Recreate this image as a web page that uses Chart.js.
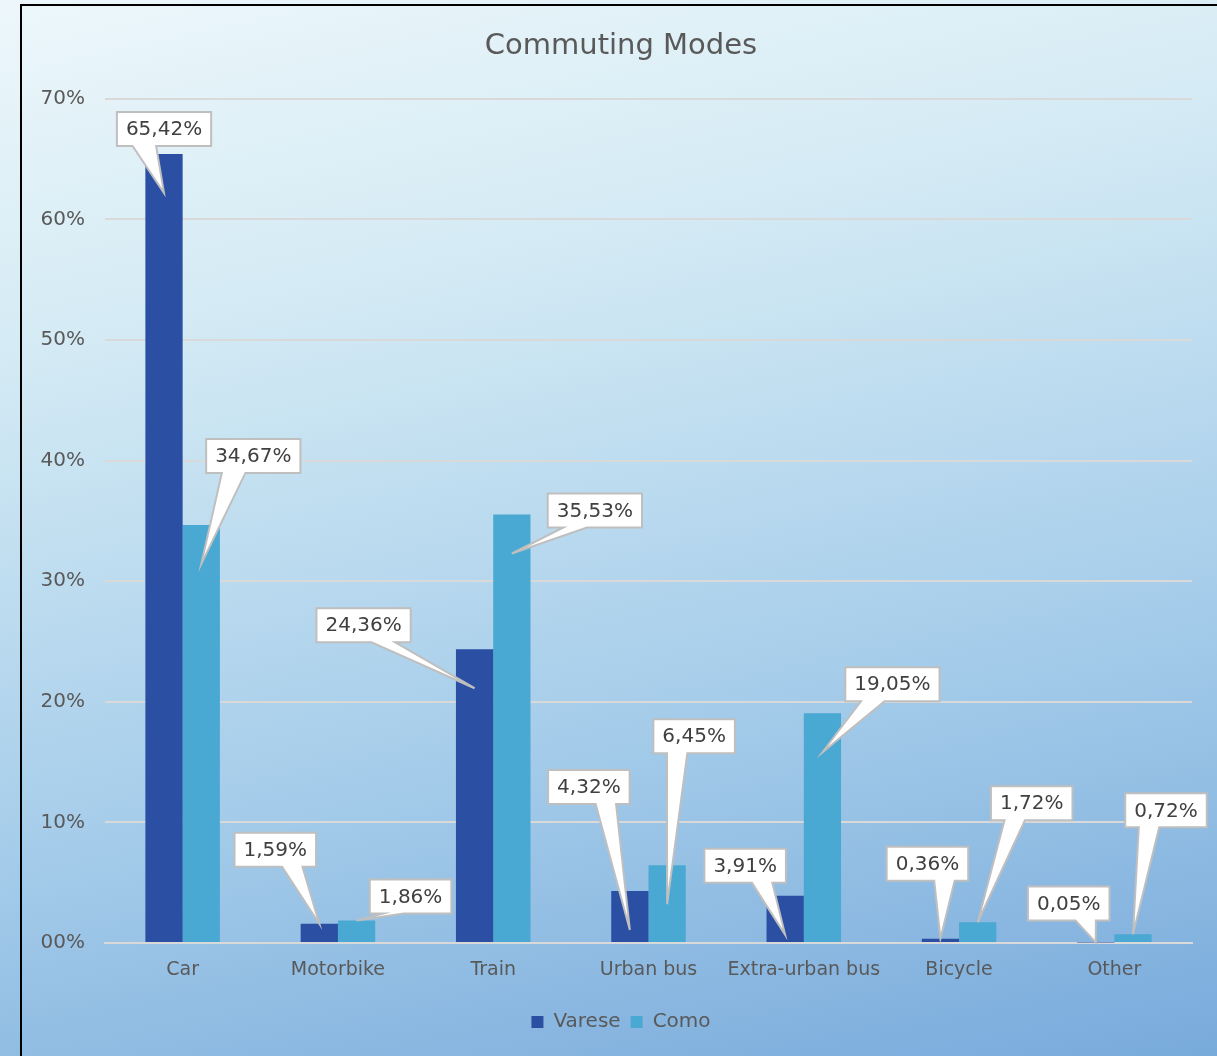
<!DOCTYPE html>
<html>
<head>
<meta charset="utf-8">
<script src="https://cdn.jsdelivr.net/npm/chart.js@4.4.1/dist/chart.umd.min.js"></script>
<style>
  html, body { margin: 0; padding: 0; }
  body {
    width: 1217px; height: 1056px; overflow: hidden; position: relative;
    background: linear-gradient(168deg, #edf7fb 0%, #d3eaf4 28%, #a9cfeb 62%, #78aadb 100%);
  }
  #frame {
    position: absolute; left: 20px; top: 4px; right: -10px; bottom: -10px;
    border-left: 2px solid #000; border-top: 2px solid #000;
  }
  #chart { position: absolute; left: 22px; top: 0; }
</style>
</head>
<body>
<div id="frame"></div>
<canvas id="chart" width="1198" height="1056"></canvas>
<script>
const categories = ['Car', 'Motorbike', 'Train', 'Urban bus', 'Extra-urban bus', 'Bicycle', 'Other'];
const vareseValues = [65.42, 1.59, 24.36, 4.32, 3.91, 0.36, 0.05];
const comoValues = [34.67, 1.86, 35.53, 6.45, 19.05, 1.72, 0.72];
const yTicks = [0, 10, 20, 30, 40, 50, 60, 70];

// callout box centre, relative to the top centre of its bar (px)
const vareseCallouts = [[0, -25], [-44, -74], [-111, -24], [-41, -104], [-40, -30], [-13, -75], [-27, -39]];
const comoCallouts = [[52, -69], [54, -24], [83, -4], [27, -129], [70, -29], [54, -119], [33, -124]];

const FONT = '"DejaVu Sans", sans-serif';
const TEXT = '#595959';

function fmt(v) {
  return v.toFixed(2).replace('.', ',') + '%';
}

// rectangle with a wedge, like the office "wedgeRectCallout" shape
function calloutPath(ctx, l, t, w, h, tx, ty) {
  const hc = l + w / 2, vc = t + h / 2;
  const dxPos = tx - hc, dyPos = ty - vc;
  const dx = dxPos * h / w, dy = dyPos;
  const x1 = l + w * (dxPos > 0 ? 7 : 2) / 12, x2 = l + w * (dxPos > 0 ? 10 : 5) / 12;
  const y1 = t + h * (dyPos > 0 ? 7 : 2) / 12, y2 = t + h * (dyPos > 0 ? 10 : 5) / 12;
  const side = Math.abs(dx) > Math.abs(dy);
  ctx.beginPath();
  ctx.moveTo(l, t);
  if (!side && dyPos < 0) { ctx.lineTo(x1, t); ctx.lineTo(tx, ty); ctx.lineTo(x2, t); }
  ctx.lineTo(l + w, t);
  if (side && dxPos > 0) { ctx.lineTo(l + w, y1); ctx.lineTo(tx, ty); ctx.lineTo(l + w, y2); }
  ctx.lineTo(l + w, t + h);
  if (!side && dyPos > 0) { ctx.lineTo(x2, t + h); ctx.lineTo(tx, ty); ctx.lineTo(x1, t + h); }
  ctx.lineTo(l, t + h);
  if (side && dxPos < 0) { ctx.lineTo(l, y2); ctx.lineTo(tx, ty); ctx.lineTo(l, y1); }
  ctx.closePath();
}

const calloutPlugin = {
  id: 'callouts',
  afterDatasetsDraw(chart) {
    const ctx = chart.ctx;
    const offsets = [vareseCallouts, comoCallouts];
    ctx.save();
    ctx.font = '20px ' + FONT;
    ctx.textAlign = 'center';
    ctx.textBaseline = 'middle';
    chart.data.datasets.forEach((ds, di) => {
      const meta = chart.getDatasetMeta(di);
      meta.data.forEach((bar, i) => {
        const top = bar.y, height = bar.base - bar.y;
        const tx = bar.x;
        const ty = height > 40 ? top + 39 : top;
        const label = fmt(ds.data[i]);
        const w = ctx.measureText(label).width + 18;
        const h = 34;
        const cx = bar.x + offsets[di][i][0];
        const cy = top + offsets[di][i][1];
        const l = cx - w / 2, t = cy - h / 2;
        calloutPath(ctx, l, t, w, h, tx, ty);
        ctx.fillStyle = '#ffffff';
        ctx.fill();
        ctx.lineWidth = 2;
        ctx.strokeStyle = '#bfbfbf';
        ctx.stroke();
        ctx.fillStyle = '#404040';
        ctx.fillText(label, cx, cy + 1);
      });
    });
    ctx.restore();
  }
};

new Chart(document.getElementById('chart'), {
  type: 'bar',
  data: {
    labels: categories,
    datasets: [{
      label: 'Varese',
      data: vareseValues,
      backgroundColor: '#2a4fa3',
      categoryPercentage: 0.48,
      barPercentage: 1
    }, {
      label: 'Como',
      data: comoValues,
      backgroundColor: '#4aa9d2',
      categoryPercentage: 0.48,
      barPercentage: 1
    }]
  },
  options: {
    responsive: false,
    animation: false,
    devicePixelRatio: 1,
    layout: { padding: { top: 29, right: 0, bottom: 14, left: 0 } },
    plugins: {
      title: {
        display: true,
        text: 'Commuting Modes',
        color: TEXT,
        font: { family: FONT, size: 29, weight: 'normal' },
        padding: { top: 0, bottom: 35 }
      },
      legend: {
        position: 'bottom',
        labels: {
          color: TEXT,
          font: { family: FONT, size: 20 },
          boxWidth: 12,
          boxHeight: 12,
          padding: 10
        }
      },
      tooltip: { enabled: false }
    },
    scales: {
      x: {
        grid: { display: false, drawTicks: false },
        border: { color: '#d9d9d9', width: 2 },
        ticks: {
          color: TEXT,
          font: { family: FONT, size: 19 },
          padding: 16,
          maxRotation: 0,
          minRotation: 0,
          autoSkip: false
        },
        afterFit(scale) { scale.height = 59; }
      },
      y: {
        min: 0,
        max: 70,
        afterBuildTicks(scale) { scale.ticks = yTicks.map(v => ({ value: v })); },
        grid: { color: '#d9d9d9', lineWidth: 2, drawTicks: false },
        border: { display: false },
        ticks: {
          color: TEXT,
          font: { family: FONT, size: 20 },
          padding: 20,
          callback: v => String(v).padStart(2, '0') + '%'
        },
        afterFit(scale) { scale.width = 83; }
      },
      // empty right-hand strip so the plot stops short of the edge
      yRight: {
        position: 'right',
        min: 0,
        max: 70,
        grid: { display: false, drawTicks: false },
        border: { display: false },
        ticks: { display: false },
        afterFit(scale) { scale.width = 28; }
      }
    }
  },
  plugins: [calloutPlugin]
});
</script>
</body>
</html>
